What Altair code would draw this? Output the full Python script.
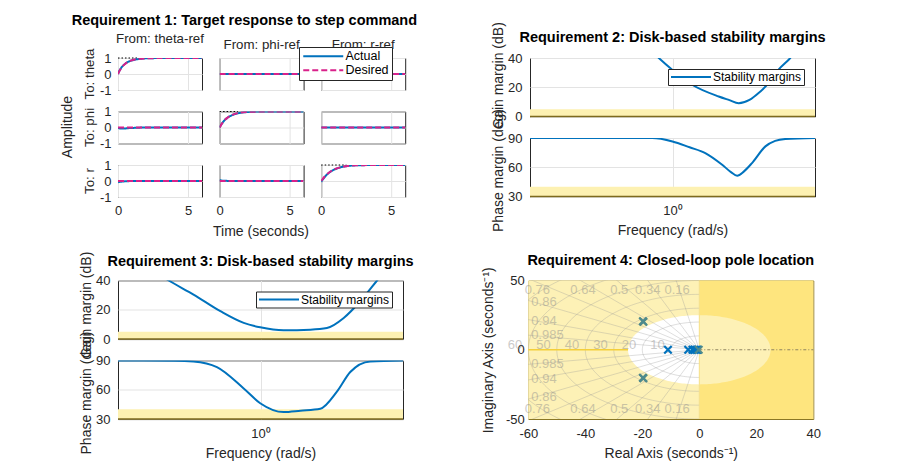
import altair as alt
import pandas as pd
import numpy as np

FONT = "Liberation Sans"
TXT = "#262626"
BLUE = "#0072BD"
MAG = "#D9218A"
TEAL = "#4E8A8C"
BAND = "#FDF1B2"
BAND_EDGE = "#7D6A1E"
LIGHT_Y = "#FDF1B6"
DARK_Y = "#FEE57E"
GRID = "#E3E3E3"
PLAIN = "'' + datum.value"

# ---------------- Requirement 1: step responses ----------------
t = [0, 0.1, 0.25, 0.5, 0.75, 1.0, 1.5, 2.0, 2.5, 3.0, 4.0, 5.0, 6.0]
inputs = ["From: theta-ref", "From: phi-ref", "From: r-ref"]
outputs = ["To: theta", "To: phi", "To: r"]

des_theta = [0, 0.18, 0.39, 0.63, 0.78, 0.86, 0.95, 0.98, 0.99, 1, 1, 1, 1]
des_phi = [0, 0.15, 0.34, 0.57, 0.72, 0.82, 0.93, 0.97, 0.99, 1, 1, 1, 1]
des_r = [0, 0.12, 0.28, 0.49, 0.64, 0.75, 0.88, 0.95, 0.98, 0.99, 1, 1, 1]
des_zero = [0, 0, 0, 0, 0, 0, 0, 0, 0, 0, 0, 0, 0]

act_theta_theta = [0, 0.20, 0.41, 0.63, 0.77, 0.85, 0.94, 0.98, 0.99, 1, 1, 1, 1]
act_theta_phi = [0, 0, 0, 0, 0, 0, 0, 0, 0, 0, 0, 0, 0]
act_theta_r = [0, 0, 0, 0, 0, 0, 0, 0, 0, 0, 0, 0, 0]
act_phi_theta = [0, -0.05, -0.07, -0.06, -0.04, -0.03, -0.01, 0, 0, 0, 0, 0, 0]
act_phi_phi = [0, 0.16, 0.35, 0.57, 0.71, 0.81, 0.92, 0.97, 0.99, 1, 1, 1, 1]
act_phi_r = [0, 0, 0, 0, 0, 0, 0, 0, 0, 0, 0, 0, 0]
act_r_theta = [-0.08, -0.06, -0.04, -0.02, -0.01, 0, 0, 0, 0, 0, 0, 0, 0]
act_r_phi = [0.06, 0.04, 0.02, 0.01, 0, 0, 0, 0, 0, 0, 0, 0, 0]
act_r_r = [-0.06, 0.08, 0.25, 0.47, 0.63, 0.74, 0.88, 0.95, 0.98, 0.99, 1, 1, 1]

actual = {
    ("To: theta", "From: theta-ref"): act_theta_theta,
    ("To: theta", "From: phi-ref"): act_theta_phi,
    ("To: theta", "From: r-ref"): act_theta_r,
    ("To: phi", "From: theta-ref"): act_phi_theta,
    ("To: phi", "From: phi-ref"): act_phi_phi,
    ("To: phi", "From: r-ref"): act_phi_r,
    ("To: r", "From: theta-ref"): act_r_theta,
    ("To: r", "From: phi-ref"): act_r_phi,
    ("To: r", "From: r-ref"): act_r_r,
}
desired_diag = {"To: theta": des_theta, "To: phi": des_phi, "To: r": des_r}
ref_end = {"To: theta": 1.5, "To: phi": 1.3, "To: r": 1.8}

rows = []
for oi, o in enumerate(outputs):
    for ii, i in enumerate(inputs):
        for tk, a in zip(t, actual[(o, i)]):
            rows.append(dict(out=o, inp=i, t=tk, v=a, series="Actual", kind="resp"))
        des = desired_diag[o] if oi == ii else des_zero
        for tk, d in zip(t, des):
            rows.append(dict(out=o, inp=i, t=tk, v=d, series="Desired", kind="resp"))
        if oi == ii:
            rows.append(dict(out=o, inp=i, t=0, v=1, series="ref", kind="ref"))
            rows.append(dict(out=o, inp=i, t=ref_end[o], v=1, series="ref", kind="ref"))
df1 = pd.DataFrame(rows)

x1 = alt.X("t:Q", scale=alt.Scale(domain=[0, 6], nice=False),
           axis=alt.Axis(values=[0, 5], title=None, grid=True, labelPadding=6.5, labelExpr=PLAIN))
y1 = alt.Y("v:Q", scale=alt.Scale(domain=[-1, 1], nice=False),
           axis=alt.Axis(values=[-1, 0, 1], title=None, grid=True, labelPadding=4, labelExpr=PLAIN))

leg1 = alt.Legend(title=None, orient="none", legendX=181, legendY=-11,
                  symbolType="M-1,0L7,0", symbolSize=100, symbolStrokeWidth=2,
                  labelOffset=31, labelFontSize=12.5, labelColor="#000000",
                  strokeColor=TXT, fillColor="white", padding=3, rowPadding=1,
                  cornerRadius=0)

resp = alt.Chart().mark_line(strokeWidth=2, clip=True, interpolate="monotone").encode(
    x=x1, y=y1,
    color=alt.Color("series:N", scale=alt.Scale(domain=["Actual", "Desired"], range=[BLUE, MAG]), legend=leg1),
    strokeDash=alt.StrokeDash("series:N", scale=alt.Scale(domain=["Actual", "Desired"], range=[[1, 0], [6, 3]]), legend=leg1),
).transform_filter(alt.datum.kind == "resp")

ref = alt.Chart().mark_line(strokeWidth=1, color="#000000", strokeDash=[1.5, 2]).encode(
    x=x1, y=y1, detail="out:N"
).transform_filter(alt.datum.kind == "ref")

req1 = alt.layer(ref, resp).properties(width=84, height=32).facet(
    row=alt.Row("out:N", sort=outputs,
                header=alt.Header(title="Amplitude", titleOrient="left", labelOrient="left",
                                  labelAngle=-90, labelPadding=-4, titlePadding=-2)),
    column=alt.Column("inp:N", sort=inputs,
                      header=alt.Header(title="Time (seconds)", titleOrient="bottom", labelOrient="top",
                                        labelPadding=4, titlePadding=-3,
                                        labelExpr="datum.value == 'From: theta-ref' ? [datum.value, ''] : datum.value",
                                        labelLineHeight=6)),
    data=df1,
    spacing={"row": 17.5, "column": 13.6},
).properties(title=alt.TitleParams("Requirement 1: Target response to step command", offset=2.8, dx=11))

# ---------------- Requirements 2 & 3: disk margins ----------------
FREQ_LO = 0.001
FREQ_HI = 1000.0
gain_band = [0, 5]
phase_band = [30, 40]

r2_gain_w = [0.251, 0.515, 0.986, 2.59, 9.38, 15.8, 24.7, 41.7, 64.9, 110, 171, 301, 501]
r2_gain_m = [50, 40, 32, 21.7, 13.7, 11.2, 9.1, 11.3, 16.0, 23.5, 32, 40, 50]
r2_phase_w = [0.001, 0.375, 1.0, 2.29, 4.9, 11.1, 17.0, 23.0, 31.6, 47.2, 90.4, 145, 238, 1000]
r2_phase_m = [90, 90, 86.5, 80.5, 74.6, 62.6, 55, 51.3, 55.5, 64.3, 81.4, 87, 89, 90]

r3_gain_w = [0.00398, 0.0117, 0.0389, 0.143, 0.443, 0.986, 3.06, 11.2, 25.0, 56.5, 126, 284, 501]
r3_gain_m = [50, 40, 30.4, 19.0, 11.0, 8.0, 6.0, 6.4, 7.5, 14.4, 25.8, 40, 50]
r3_phase_w = [0.001, 0.0158, 0.0389, 0.121, 0.443, 0.986, 3.06, 6.92, 18.2, 40.6, 77.6, 204, 1000]
r3_phase_m = [90, 89.8, 89, 83.2, 61.3, 46.2, 37.1, 38.5, 40.5, 58, 78.2, 89, 90]


def margins_block(title, gw, gm, pw, pm, gain_title_y, phase_title_y, title_offset):
    xscale = alt.Scale(type="log", domain=[FREQ_LO, FREQ_HI], nice=False)
    xg = alt.X("w:Q", scale=xscale, axis=alt.Axis(values=[1], labels=False, title=None, grid=True))
    yg = alt.Y("m:Q", scale=alt.Scale(domain=[0, 40], nice=False),
               axis=alt.Axis(values=[0, 20, 40], title="Gain margin (dB)", grid=True, labelExpr=PLAIN,
                             titleY=gain_title_y, titlePadding=2, labelPadding=8))
    xp = alt.X("w:Q", scale=xscale,
               axis=alt.Axis(values=[1], labelExpr="'10\u2070'", title="Frequency (rad/s)", grid=True,
                             labelPadding=8, titlePadding=6))
    yp = alt.Y("m:Q", scale=alt.Scale(domain=[30, 90], nice=False),
               axis=alt.Axis(values=[30, 60, 90], title="Phase margin (deg)", grid=True, labelExpr=PLAIN,
                             titleY=phase_title_y, titlePadding=2, labelPadding=8))

    gband = pd.DataFrame({"w": [FREQ_LO], "w2": [FREQ_HI], "m": [gain_band[0]], "m2": [gain_band[1]]})
    pband = pd.DataFrame({"w": [FREQ_LO], "w2": [FREQ_HI], "m": [phase_band[0]], "m2": [phase_band[1]]})
    gdf = pd.DataFrame({"w": gw, "m": gm, "name": "Stability margins"})
    pdf = pd.DataFrame({"w": pw, "m": pm})

    leg = alt.Legend(title=None, orient="top-right", offset=11,
                     symbolType="M-1,0L7,0", symbolSize=100, symbolStrokeWidth=2,
                     labelOffset=31, labelFontSize=12, labelColor="#000000",
                     strokeColor=TXT, fillColor="white", padding=2, cornerRadius=0)

    g = alt.layer(
        alt.Chart(gband).mark_rect(color=BAND).encode(x=xg, x2="w2:Q", y=yg, y2="m2:Q"),
        alt.Chart(gband).mark_rule(color=BAND_EDGE, strokeWidth=1.5).encode(x=xg, x2="w2:Q", y=yg),
        alt.Chart(gdf).mark_line(strokeWidth=2, clip=True, interpolate="monotone").encode(
            x=xg, y=yg,
            color=alt.Color("name:N", scale=alt.Scale(domain=["Stability margins"], range=[BLUE]), legend=leg)),
    ).properties(width=285, height=58.5,
                 title=alt.TitleParams(title, frame="group", offset=title_offset))

    p = alt.layer(
        alt.Chart(pband).mark_rect(color=BAND).encode(x=xp, x2="w2:Q", y=yp, y2="m2:Q"),
        alt.Chart(pband).mark_rule(color=BAND_EDGE, strokeWidth=1.5).encode(x=xp, x2="w2:Q", y=yp),
        alt.Chart(pdf).mark_line(strokeWidth=2, clip=True, color=BLUE, interpolate="monotone").encode(x=xp, y=yp),
    ).properties(width=285, height=58.5)

    return alt.vconcat(g, p, spacing=21, bounds="flush").resolve_scale(color="independent")


req2 = margins_block("Requirement 2: Disk-based stability margins",
                     r2_gain_w, r2_gain_m, r2_phase_w, r2_phase_m, 17, 32, -23.6)
req3 = margins_block("Requirement 3: Disk-based stability margins",
                     r3_gain_w, r3_gain_m, r3_phase_w, r3_phase_m, 24, 32, -18)

# ---------------- Requirement 4: pole locations ----------------
re_range = [-60, 40]
im_range = [-50, 50]
decay_radius = 25
wn_grid = [10, 20, 30, 40, 50, 60, 70, 80]
wn_labels = ["10", "20", "30", "40", "50", "60"]
wn_label_x = [-10, -20, -30, -40, -50, -60]
zeta_grid = [0.16, 0.34, 0.5, 0.64, 0.76, 0.86, 0.94, 0.985]
zeta_labels = ["0.76", "0.64", "0.5", "0.34", "0.16", "0.86", "0.94", "0.985",
               "0.76", "0.64", "0.5", "0.34", "0.16", "0.86", "0.94", "0.985"]
zeta_label_x = [-56.8, -40.8, -28.1, -18.1, -7.8, -54.5, -54.5, -53.3,
                -56.8, -40.8, -28.1, -18.1, -7.8, -54.5, -54.5, -53.3]
zeta_label_y = [43, 43, 43, 43, 43, 34.3, 21, 10.6,
                -43, -43, -43, -43, -43, -34.3, -21, -10.6]
pole_blue_re = [-11.0, -3.9, -2.4, -1.7, -1.1, -0.6]
pole_blue_im = [0, 0, 0, 0, 0, 0]
pole_teal_re = [-19.8, -19.8, -19.6, -19.6, -0.2]
pole_teal_im = [20.6, -20.2, 20.2, -20.6, 0]

xs4 = alt.Scale(domain=re_range, nice=False)
ys4 = alt.Scale(domain=im_range, nice=False)
X4 = alt.X("x:Q", scale=xs4, axis=alt.Axis(values=[-60, -40, -20, 0, 20, 40], grid=False, labelExpr=PLAIN,
                                           title="Real Axis (seconds\u207b\u00b9)", labelPadding=8, titlePadding=6))
Y4 = alt.Y("y:Q", scale=ys4, axis=alt.Axis(values=[-50, 0, 50], grid=False, labelExpr=PLAIN,
                                           title="Imaginary Axis (seconds\u207b\u00b9)", labelPadding=4, titlePadding=10))

regions = pd.DataFrame({"x": [re_range[0], 0], "x2": [0, re_range[1]],
                        "y": [im_range[0], im_range[0]], "y2": [im_range[1], im_range[1]],
                        "c": ["left", "right"]})
ang_l = np.linspace(np.pi / 2, np.pi, 60)
disk_left = pd.DataFrame({"x": decay_radius * np.cos(ang_l), "y": -decay_radius * np.sin(ang_l),
                          "y2": decay_radius * np.sin(ang_l)})
ang_r = np.linspace(0, np.pi / 2, 60)
disk_right = pd.DataFrame({"x": decay_radius * np.cos(ang_r), "y": -decay_radius * np.sin(ang_r),
                           "y2": decay_radius * np.sin(ang_r)})

circ_rows = []
for wn in wn_grid:
    for k, a in enumerate(np.linspace(np.pi / 2, 3 * np.pi / 2, 90)):
        circ_rows.append(dict(wn=wn, k=k, x=wn * np.cos(a), y=wn * np.sin(a)))
circles = pd.DataFrame(circ_rows)

ray_rows = []
for z in zeta_grid:
    for s in (1, -1):
        ray_rows.append(dict(id=f"{z}{s}", k=0, x=0.0, y=0.0))
        ray_rows.append(dict(id=f"{z}{s}", k=1, x=-z * 120, y=s * np.sqrt(1 - z * z) * 120))
rays = pd.DataFrame(ray_rows)

neg_axis = pd.DataFrame({"x": [re_range[0]], "x2": [-decay_radius], "y": [0]})
pos_axis = pd.DataFrame({"x": [0], "x2": [re_range[1]], "y": [0]})
imag_edge = pd.DataFrame({"x": [0], "y": [im_range[0]], "y2": [im_range[1]]})
wn_lab = pd.DataFrame({"x": wn_label_x, "y": [0] * 6, "label": wn_labels})
z_lab = pd.DataFrame({"x": zeta_label_x, "y": zeta_label_y, "label": zeta_labels})
poles_b = pd.DataFrame({"x": pole_blue_re, "y": pole_blue_im})
poles_t = pd.DataFrame({"x": pole_teal_re, "y": pole_teal_im})

XMARK = "M-1,-1L1,1M-1,1L1,-1"

req4 = alt.layer(
    alt.Chart(regions).mark_rect().encode(
        x=X4, x2="x2:Q", y=Y4, y2="y2:Q",
        color=alt.Color("c:N", scale=alt.Scale(domain=["left", "right"], range=[LIGHT_Y, DARK_Y]), legend=None)),
    alt.Chart(disk_left).mark_area(color="white").encode(x=X4, y=Y4, y2="y2:Q"),
    alt.Chart(disk_right).mark_area(color=LIGHT_Y).encode(x=X4, y=Y4, y2="y2:Q"),
    alt.Chart(circles).mark_line(color="#999999", opacity=0.32, strokeWidth=1, clip=True).encode(
        x=X4, y=Y4, detail="wn:N", order="k:Q"),
    alt.Chart(rays).mark_line(color="#999999", opacity=0.32, strokeWidth=1, clip=True).encode(
        x=X4, y=Y4, detail="id:N", order="k:Q"),
    alt.Chart(neg_axis).mark_rule(color="#F4CF3A", strokeWidth=1.5).encode(x=X4, x2="x2:Q", y=Y4),
    alt.Chart(pos_axis).mark_rule(color="#8F8460", strokeWidth=1, strokeDash=[3, 2, 1, 2]).encode(x=X4, x2="x2:Q", y=Y4),
    alt.Chart(imag_edge).mark_rule(color="#F5E08A", strokeWidth=1).encode(x=X4, y=Y4, y2="y2:Q"),
    alt.Chart(wn_lab).mark_text(align="right", baseline="alphabetic", dx=-6, dy=-1, fontSize=13,
                                color="#8C8C8C", opacity=0.45).encode(x=X4, y=Y4, text="label:N"),
    alt.Chart(z_lab).mark_text(align="center", baseline="middle", fontSize=13,
                               color="#8C8C8C", opacity=0.45).encode(x=X4, y=Y4, text="label:N"),
    alt.Chart(poles_b).mark_point(shape=XMARK, size=55, strokeWidth=2.2, filled=False, color=BLUE, opacity=1).encode(x=X4, y=Y4),
    alt.Chart(poles_t).mark_point(shape=XMARK, size=55, strokeWidth=2.2, filled=False, color=TEAL, opacity=1).encode(x=X4, y=Y4),
).properties(width=285, height=138.5,
             view=alt.ViewBackground(stroke="#8A7725"),
             title=alt.TitleParams("Requirement 4: Closed-loop pole location", frame="group", offset=-2))

# ---------------- layout ----------------
row1 = alt.hconcat(req1, req2, spacing=73).resolve_scale(color="independent", strokeDash="independent")
row2 = alt.hconcat(req3, req4, spacing=65.3).resolve_scale(color="independent", strokeDash="independent")

chart = alt.vconcat(row1, row2, spacing=11.5).resolve_scale(
    color="independent", strokeDash="independent"
).properties(
    padding={"left": 52, "top": 5, "right": 5, "bottom": 5}
).configure(
    font=FONT
).configure_view(
    stroke=TXT, strokeWidth=1
).configure_axis(
    labelFont=FONT, labelFontSize=13, labelColor=TXT, labelFlush=False,
    titleFont=FONT, titleFontSize=14, titleColor=TXT, titleFontWeight="normal",
    domain=False, ticks=False, tickSize=0, gridColor=GRID, gridWidth=1,
).configure_header(
    labelFont=FONT, labelFontSize=13.3, labelColor=TXT,
    titleFont=FONT, titleFontSize=14, titleColor=TXT, titleFontWeight="normal",
).configure_title(
    font=FONT, fontSize=14.5, fontWeight="bold", color="#000000", anchor="middle"
).configure_legend(
    labelFont=FONT
)

chart.save("out.html", embed_options={"renderer": "svg", "actions": False})
